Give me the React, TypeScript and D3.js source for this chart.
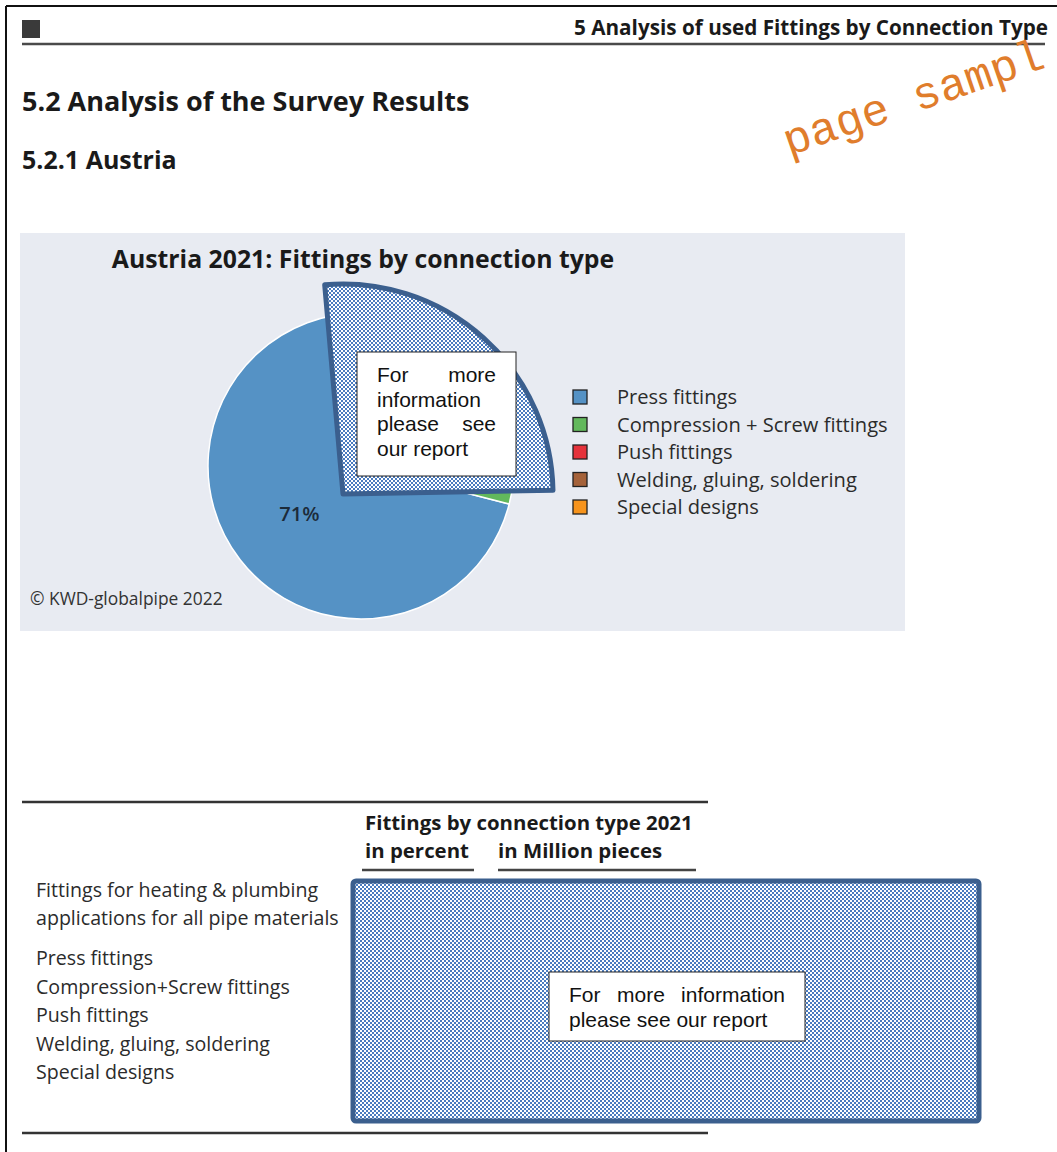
import { useEffect } from 'react'
import * as d3 from 'd3'

const W = 1057, H = 1152

const categories = ['Press fittings', 'Compression + Screw fittings', 'Push fittings', 'Welding, gluing, soldering', 'Special designs']
const shares = [71, 15, 8, 4, 2]
const colors = ['#5592c5', '#62b85c', '#e5323b', '#a5623a', '#f7941d']
const tableRows = ['Press fittings', 'Compression+Screw fittings', 'Push fittings', 'Welding, gluing, soldering', 'Special designs']

const SANS = '"Open Sans", Lato, sans-serif'
const ARIAL = '"Liberation Sans", Arial, sans-serif'
const TXT = '#2b2b2b'
const HATCH_STROKE = '#3b5f8e'
const HATCH_BLUE = '#4a7bbf'

const deg = (d: number) => (d * Math.PI) / 180

export default function App() {
  useEffect(() => {
    document.body.style.margin = '0'
  }, [])

  // pie
  const cx = 361, cy = 466, R = 153
  const pie = d3.pie<number>().sort(null).startAngle(0).endAngle(-2 * Math.PI)
  const arcs = pie(shares)
  const arcGen = d3.arc<d3.PieArcDatum<number>>().innerRadius(0).outerRadius(R)
  const labelArc = d3.arc<d3.PieArcDatum<number>>().innerRadius(78).outerRadius(78)

  // overlay sector hiding the smaller slices
  const coverPath = d3.arc()({ innerRadius: 0, outerRadius: 210, startAngle: deg(-5), endAngle: deg(89) }) as string

  const legendY = d3.scalePoint<string>().domain(categories).range([397, 507])
  const rowY = d3.scalePoint<string>().domain(tableRows).range([965, 1079])

  return (
    <svg width={W} height={H} style={{ display: 'block', background: '#fff' }}>
      <defs>
        <pattern id="chk" patternUnits="userSpaceOnUse" width={4} height={4}>
          <rect width={4} height={4} fill="#fff" />
          <rect width={2} height={2} fill={HATCH_BLUE} />
          <rect x={2} y={2} width={2} height={2} fill={HATCH_BLUE} />
        </pattern>
      </defs>

      {/* page border */}
      <line x1={6} x2={W} y1={6} y2={6} stroke="#111" strokeWidth={2} />
      <line x1={6} x2={6} y1={6} y2={H} stroke="#111" strokeWidth={2} />

      {/* running header */}
      <rect x={22} y={20} width={18} height={18} fill="#3a3a3a" />
      <text x={1048} y={35} textAnchor="end" fontFamily={SANS} fontWeight={700} fontSize={20.7} fill="#1a1a1a">
        5 Analysis of used Fittings by Connection Type
      </text>
      <line x1={22} x2={1045} y1={44} y2={44} stroke="#4a4a4a" strokeWidth={2.5} />

      <text x={22} y={111} fontFamily={SANS} fontWeight={700} fontSize={27} fill="#1a1a1a">5.2 Analysis of the Survey Results</text>
      <text x={22} y={169} fontFamily={SANS} fontWeight={700} fontSize={25} fill="#1a1a1a">5.2.1 Austria</text>

      {/* chart panel */}
      <rect x={20} y={233} width={885} height={398} fill="#e8ebf2" />
      <text x={363} y={268} textAnchor="middle" fontFamily={SANS} fontWeight={700} fontSize={24.8} fill="#1a1a1a">
        Austria 2021: Fittings by connection type
      </text>
      <g transform={`translate(${cx},${cy})`}>
        {arcs.map((a, i) => (
          <path key={categories[i]} d={arcGen(a) as string} fill={colors[i]} stroke="#fff" strokeWidth={1.5} />
        ))}
        <text
          transform={`translate(${labelArc.centroid(arcs[0])})`}
          dy="0.35em" textAnchor="middle" fontFamily={SANS} fontWeight={600} fontSize={20} fill="#1c2b3a"
        >
          {shares[0]}%
        </text>
      </g>
      <text x={30} y={605} fontFamily={SANS} fontSize={17.4} fill="#333">© KWD-globalpipe 2022</text>

      {categories.map((c, i) => (
        <g key={c} transform={`translate(0,${legendY(c)})`}>
          <rect x={573} y={-7} width={14} height={14} fill={colors[i]} stroke="#222" strokeWidth={1.3} />
          <text x={617} dy="0.35em" fontFamily={SANS} fontSize={20.1} fill={TXT}>{c}</text>
        </g>
      ))}

      {/* hatched cover over pie */}
      <path d={coverPath} transform="translate(343,494)" fill="url(#chk)" stroke={HATCH_STROKE} strokeWidth={5} strokeLinejoin="round" />
      <rect x={357} y={352} width={159} height={124} fill="#fff" stroke="#222" strokeWidth={1} />
      <g fontFamily={ARIAL} fontSize={21} fill="#111">
        <text x={377} y={382}>For</text>
        <text x={496} y={382} textAnchor="end">more</text>
        <text x={377} y={407}>information</text>
        <text x={377} y={431}>please</text>
        <text x={496} y={431} textAnchor="end">see</text>
        <text x={377} y={456}>our report</text>
      </g>

      {/* watermark */}
      <text
        transform="translate(789,156) rotate(-19)"
        fontFamily='"Liberation Mono", "DejaVu Sans Mono", monospace' fontSize={45.5} fill="#e07d2c"
      >
        page sampl
      </text>

      {/* table */}
      <line x1={22} x2={708} y1={802} y2={802} stroke="#333" strokeWidth={2.5} />
      <g fontFamily={SANS} fontWeight={700} fontSize={20.4} fill="#1a1a1a">
        <text x={365} y={830}>Fittings by connection type 2021</text>
        <text x={365} y={858}>in percent</text>
        <text x={498} y={858}>in Million pieces</text>
      </g>
      <line x1={362} x2={474} y1={870} y2={870} stroke="#444" strokeWidth={2.5} />
      <line x1={498} x2={696} y1={870} y2={870} stroke="#444" strokeWidth={2.5} />
      <g fontFamily={SANS} fontSize={19.6} fill={TXT}>
        <text x={36} y={897}>Fittings for heating &amp; plumbing</text>
        <text x={36} y={925}>applications for all pipe materials</text>
        {tableRows.map(r => (
          <text key={r} x={36} y={rowY(r)}>{r}</text>
        ))}
      </g>
      <line x1={22} x2={708} y1={1133} y2={1133} stroke="#333" strokeWidth={2.5} />

      <rect x={353} y={881} width={626} height={240} rx={3} fill="url(#chk)" stroke={HATCH_STROKE} strokeWidth={5} />
      <rect x={549} y={972} width={256} height={69} fill="#fff" stroke="#222" strokeWidth={1} />
      <g fontFamily={ARIAL} fontSize={21} fill="#111">
        <text x={569} y={1002}>For</text>
        <text x={641} y={1002} textAnchor="middle">more</text>
        <text x={785} y={1002} textAnchor="end">information</text>
        <text x={569} y={1027}>please see our report</text>
      </g>
    </svg>
  )
}
